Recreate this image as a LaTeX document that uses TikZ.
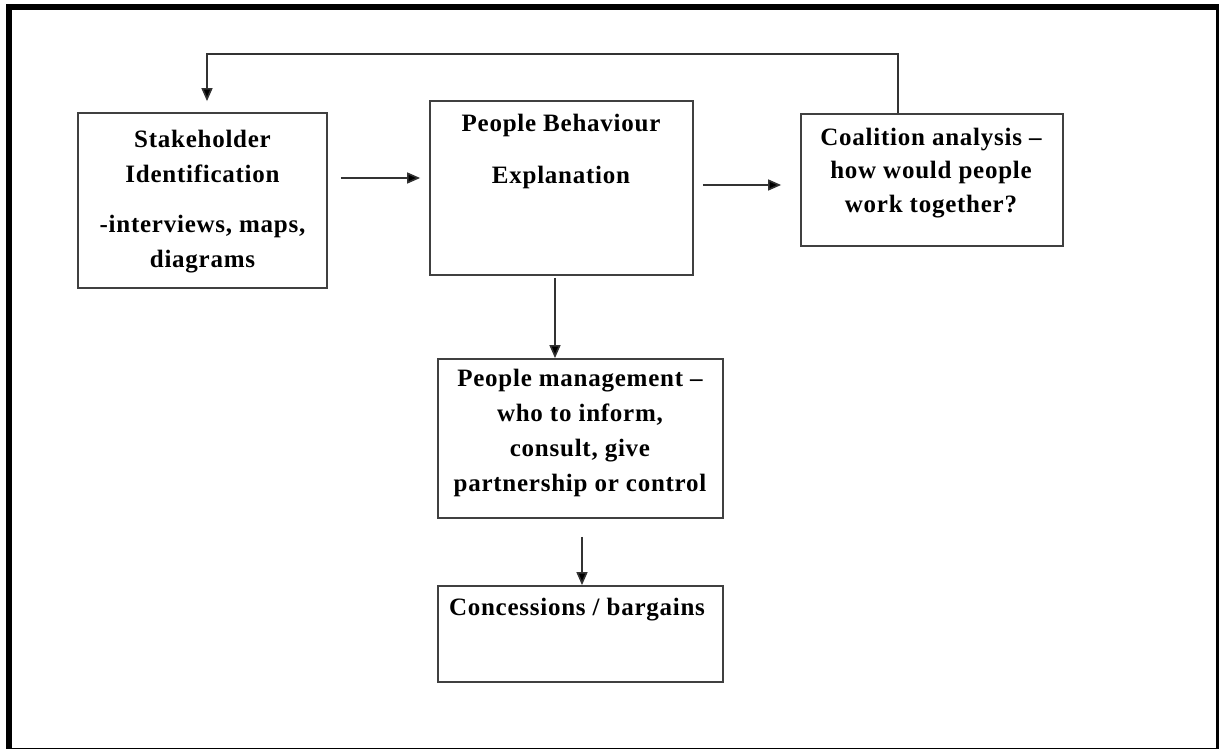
\documentclass[tikz,border=0pt]{standalone}
\usepackage{fontspec}
\setmainfont{Liberation Serif}[LetterSpace=3]
\usetikzlibrary{arrows.meta}
\begin{document}
\begin{tikzpicture}[x=1pt,y=-1pt,
  box/.style={draw=black!75, line width=1.8pt, inner sep=0pt},
  txt/.style={align=center, inner sep=0pt, anchor=base,
    font=\fontsize{25}{34}\selectfont\bfseries},
  conn/.style={draw=black!80, line width=1.6pt,
    -{Triangle[length=13pt,width=11pt,fill=black]}},
]
\useasboundingbox (0,0) rectangle (1219,749);
\fill[white] (0,0) rectangle (1219,749);
% outer frame
\draw[line width=6pt] (9,7) rectangle (1219,751);

% boxes
\node[box, minimum width=249pt, minimum height=175pt] (b1) at (202.5,200.5) {};
\node[box, minimum width=263pt, minimum height=174pt] (b2) at (561.5,188) {};
\node[box, minimum width=262pt, minimum height=132pt] (b3) at (932,180) {};
\node[box, minimum width=285pt, minimum height=159pt] (b4) at (580.5,438.5) {};
\node[box, minimum width=285pt, minimum height=96pt]  (b5) at (580.5,634) {};

% box texts (the base anchor sits on the last line)
\node[txt, font=\fontsize{25}{35}\selectfont\bfseries] (t1) at (202.5,267)
  {Stakeholder\\Identification\\[15pt]-interviews, maps,\\diagrams};
\node[txt] (t2) at (561,184) {People Behaviour\\[18pt]Explanation};
\node[txt, font=\fontsize{25}{33.5}\selectfont\bfseries] (t3) at (931,212)
  {Coalition analysis –\\how would people\\work together?};
\node[txt, font=\fontsize{25}{35}\selectfont\bfseries] (t4) at (580,491.5)
  {People management –\\who to inform,\\consult, give\\partnership or control};
\node[txt] (t5) at (577,615) {Concessions / bargains};

% helper coordinates for connector routes
\coordinate (r12) at (0,178);
\coordinate (r23) at (0,185);
\coordinate (c24) at (555,0);
\coordinate (c45) at (582,0);
\coordinate (fbA) at (898,54);
\coordinate (fbB) at (207,54);

% connectors
\draw[conn, shorten <=13pt, shorten >=9pt] (b1.east |- r12) -- (b2.west |- r12);
\draw[conn, shorten <=9pt, shorten >=19pt] (b2.east |- r23) -- (b3.west |- r23);
\draw[conn, shorten <=2pt] (b2.south -| c24) -- (b4.north -| c24);
\draw[conn, shorten <=18pt] (b4.south -| c45) -- (b5.north -| c45);
\draw[conn, shorten >=11pt] (b3.north -| fbA) -- (fbA) -- (fbB) -- (fbB |- b1.north);
\end{tikzpicture}
\end{document}
